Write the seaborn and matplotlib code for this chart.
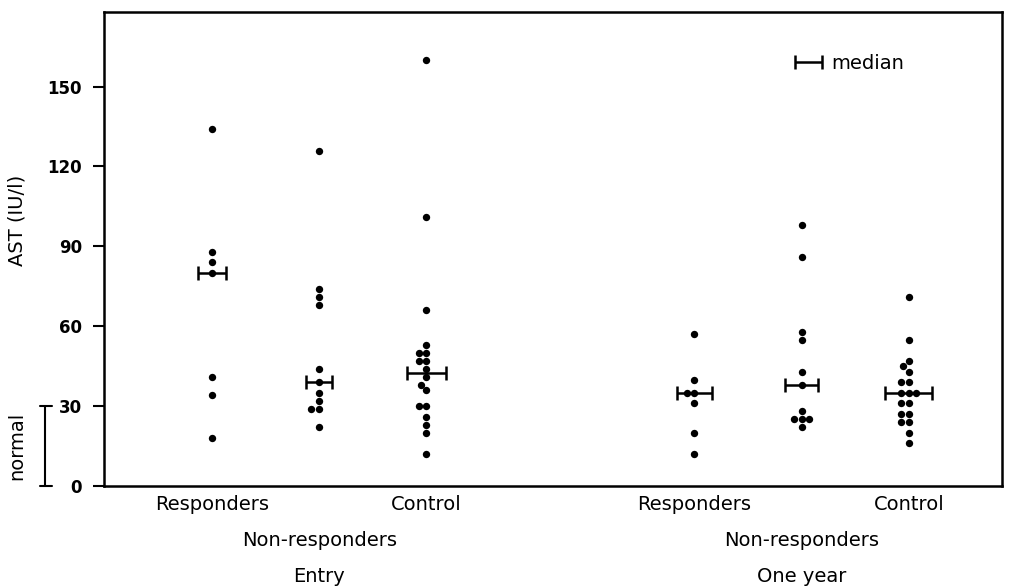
import numpy as np
import pandas as pd
import seaborn as sns
import matplotlib.pyplot as plt
from matplotlib.transforms import blended_transform_factory
from matplotlib.container import ErrorbarContainer
from matplotlib.legend_handler import HandlerErrorbar

# AST (IU/l) per patient
groups = ["Responders", "Non-responders", "Control"]
periods = ["Entry", "One year"]

entry_resp = [134, 88, 84, 80, 41, 34, 18]
entry_nonresp = [126, 74, 71, 68, 44, 39, 35, 32, 29, 29, 22]
entry_control = [160, 101, 66, 53, 50, 50, 47, 47, 44, 41, 38, 36, 30, 30, 26, 23, 20, 12]
year_resp = [57, 40, 35, 35, 31, 20, 12]
year_nonresp = [98, 86, 58, 55, 43, 38, 28, 25, 25, 25, 22]
year_control = [71, 55, 47, 45, 43, 39, 39, 35, 35, 35, 31, 31, 27, 27, 24, 24, 20, 16]

y_ticks = [0, 30, 60, 90, 120, 150]
normal_range = [0, 30]

# layout: two blocks of three columns with a gap between them
group_pos = [0, 1, 2, 4.5, 5.5, 6.5]
bar_half = [0.13, 0.12, 0.18, 0.16, 0.15, 0.22]

series = [entry_resp, entry_nonresp, entry_control, year_resp, year_nonresp, year_control]
rows = []
for pos, vals in zip(group_pos, series):
    for v in vals:
        rows.append({"pos": pos, "AST": v})
df = pd.DataFrame(rows)
medians = df.groupby("pos")["AST"].median().reindex(group_pos).values

sns.set_theme(style="white")
plt.rcParams["font.family"] = ["DejaVu Sans"]
plt.rcParams["text.color"] = "black"
plt.rcParams["ytick.labelcolor"] = "black"

fig = plt.figure(figsize=(10.23, 5.87), dpi=100)
ax = fig.add_axes([0.1017, 0.172, 0.8778, 0.8075])

sns.swarmplot(data=df, x="pos", y="AST", native_scale=True, orient="x",
              color="black", size=5.3, linewidth=0, ax=ax, zorder=2)

eb = ax.errorbar(group_pos, medians, xerr=bar_half, fmt="none", ecolor="black",
                 elinewidth=1.8, capsize=5, capthick=1.8, zorder=3)

ax.set_xlim(-1.007, 7.37)
ax.set_ylim(0, 178)
ax.set_xticks([])
ax.set_yticks(y_ticks)
ax.set_yticklabels([str(t) for t in y_ticks], fontsize=12, fontweight="bold", color="black")
ax.tick_params(axis="y", direction="out", length=8, width=1.5, pad=8, left=True, color="black")
for s in ax.spines.values():
    s.set_visible(True)
    s.set_color("black")
    s.set_linewidth(1.8)
ax.set_xlabel("")
ax.set_ylabel("")

# y-axis title and "normal" range bracket on the left
tl = blended_transform_factory(ax.transAxes, ax.transData)
ax.text(-0.097, 0.56, "AST (IU/l)", rotation=90, ha="center", va="center",
        fontsize=14, color="black", transform=ax.transAxes)
ax.plot([-0.066, -0.066], normal_range, color="black", lw=1.5, transform=tl, clip_on=False)
for yv in normal_range:
    ax.plot([-0.071, -0.058], [yv, yv], color="black", lw=1.5, transform=tl, clip_on=False)
ax.text(-0.097, np.mean(normal_range), "normal", rotation=90, ha="center", va="center",
        fontsize=14, color="black", transform=tl)

# category labels under the axis
tr = blended_transform_factory(ax.transData, ax.transAxes)
for b in range(2):
    p = group_pos[b * 3:(b + 1) * 3]
    ax.text(p[0], -0.040, groups[0], transform=tr, ha="center", va="center", fontsize=14, color="black")
    ax.text(p[2], -0.040, groups[2], transform=tr, ha="center", va="center", fontsize=14, color="black")
    ax.text(p[1], -0.114, groups[1], transform=tr, ha="center", va="center", fontsize=14, color="black")
    ax.text(p[1], -0.190, periods[b], transform=tr, ha="center", va="center", fontsize=14, color="black")

leg = ax.legend([eb], ["median"], loc="upper left", bbox_to_anchor=(0.749, 0.949),
                frameon=False, fontsize=14, handlelength=1.5, handletextpad=0.4,
                handler_map={ErrorbarContainer: HandlerErrorbar(xerr_size=0.7)})
for t in leg.get_texts():
    t.set_color("black")

fig.savefig("out.png", dpi=100)
